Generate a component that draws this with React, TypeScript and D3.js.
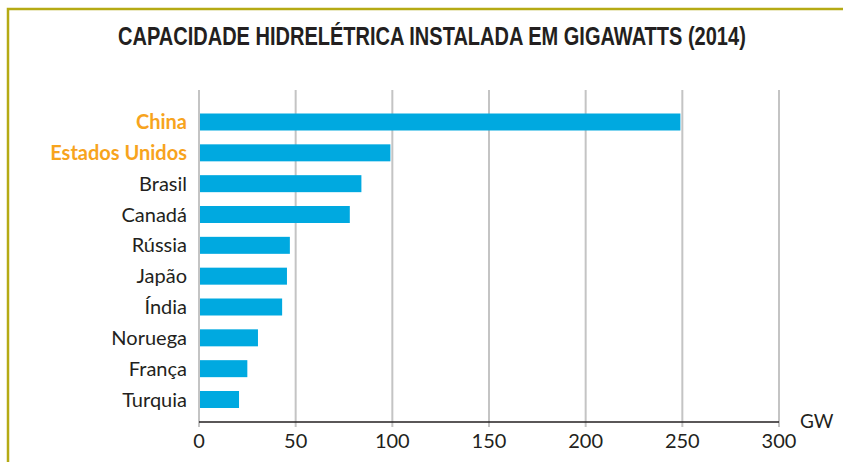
import * as d3 from "d3";
import React, { useLayoutEffect, useRef, useState } from "react";

const W = 843;
const H = 462;

const title = "CAPACIDADE HIDRELÉTRICA INSTALADA EM GIGAWATTS (2014)";
const countries = [
  "China",
  "Estados Unidos",
  "Brasil",
  "Canadá",
  "Rússia",
  "Japão",
  "Índia",
  "Noruega",
  "França",
  "Turquia",
];
const capacityGW = [249, 99, 84, 78, 47, 45.5, 43, 30.5, 25, 20.7];
const highlighted = ["China", "Estados Unidos"];
const xTicks = [0, 50, 100, 150, 200, 250, 300];
const unitLabel = "GW";

const barColor = "#00a9e0";
const orange = "#f7a41d";
const textColor = "#231f20";
const frameColor = "#b5aa14";
const labelFont = "Lato, 'Noto Sans', sans-serif";

const titleX = 118;
const titleWidth = 628;

export default function App() {
  const titleRef = useRef<SVGTextElement>(null);
  const [titleScale, setTitleScale] = useState(0.8);

  // squeeze the title into a condensed look (no narrow font available)
  useLayoutEffect(() => {
    if (titleRef.current) {
      const w = titleRef.current.getComputedTextLength();
      if (w > 0) setTitleScale(titleWidth / w);
    }
  }, []);

  const x = d3.scaleLinear().domain([0, 300]).range([199, 779]);
  const y = d3.scalePoint<string>().domain(countries).range([122, 399.5]);
  const barH = 17;
  const axisY = 422;

  return (
    <svg
      width={W}
      height={H}
      style={{ position: "absolute", left: 0, top: 0, background: "#fff" }}
    >
      {/* frame: only left and top edges show */}
      <path
        d={`M8,${H} L8,9 L${W},9`}
        fill="none"
        stroke={frameColor}
        strokeWidth={2.5}
      />

      <g transform={`translate(${titleX},45) scale(${titleScale},1)`}>
        <text
          ref={titleRef}
          x={0}
          y={0}
          fontFamily="'Liberation Sans', Arial, sans-serif"
          fontWeight="bold"
          fontSize={26.5}
          fill={textColor}
        >
          {title}
        </text>
      </g>

      {/* grid */}
      {xTicks.map((t) => (
        <line
          key={t}
          x1={x(t)}
          x2={x(t)}
          y1={90}
          y2={427}
          stroke="#c4c4c4"
          strokeWidth={2}
        />
      ))}

      {/* bars */}
      {countries.map((c, i) => (
        <rect
          key={c}
          x={x(0) + 1}
          y={(y(c) as number) - barH / 2}
          width={x(capacityGW[i]) - x(0) - 1}
          height={barH}
          fill={barColor}
        />
      ))}

      {/* category labels */}
      {countries.map((c) => (
        <text
          key={c}
          x={187}
          y={(y(c) as number) + 7}
          textAnchor="end"
          fontFamily={labelFont}
          fontSize={20}
          fontWeight={highlighted.includes(c) ? "bold" : "normal"}
          fill={highlighted.includes(c) ? orange : textColor}
        >
          {c}
        </text>
      ))}

      {/* x axis */}
      <line
        x1={x(0)}
        x2={x(300)}
        y1={axisY}
        y2={axisY}
        stroke={textColor}
        strokeWidth={1.6}
      />
      {xTicks.map((t) => (
        <text
          key={t}
          x={x(t)}
          y={448}
          textAnchor="middle"
          fontFamily={labelFont}
          fontSize={20}
          fill={textColor}
        >
          {t}
        </text>
      ))}
      <text x={800} y={428} fontFamily={labelFont} fontSize={19} fill={textColor}>
        {unitLabel}
      </text>
    </svg>
  );
}
